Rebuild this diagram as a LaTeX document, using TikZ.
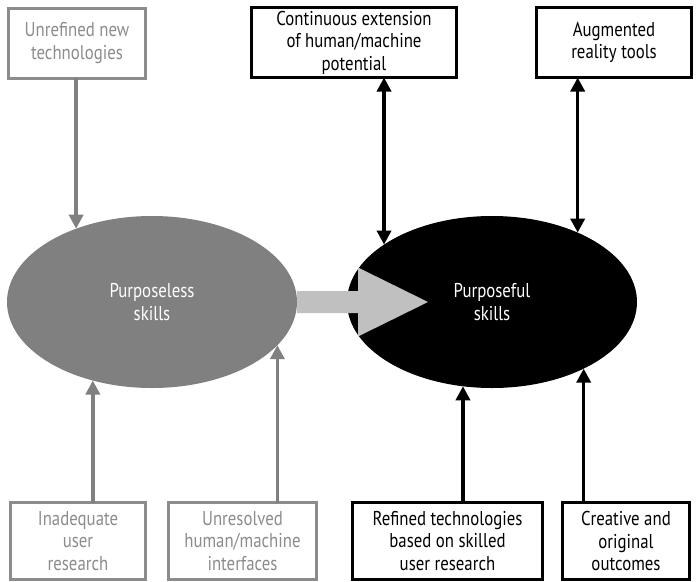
\documentclass[tikz,border=0pt]{standalone}
\usepackage{fontspec}
\setmainfont{PT Sans}[FakeStretch=0.84]
\usepackage{xcolor}
\usepackage{tikz}
\usetikzlibrary{shapes.geometric, arrows.meta}

\definecolor{midgray}{HTML}{808080}
\definecolor{boxgray}{HTML}{8C8C8C}
\definecolor{lightgray}{HTML}{C0C0C0}

\begin{document}
\begin{tikzpicture}[x=1pt, y=-1pt,
    >={Triangle[length=14pt, width=14pt]},
    box/.style={rectangle, draw=black, line width=3pt, fill=white,
                align=center, inner sep=0pt, outer sep=0pt,
                font=\fontsize{20}{22.5}\selectfont},
    oldbox/.style={box, draw=boxgray, text=boxgray},
    skill/.style={ellipse, inner sep=0pt, outer sep=0pt,
                  minimum width=290, minimum height=172, align=center,
                  text=white, font=\fontsize{20}{22.5}\selectfont},
    grayarrow/.style={->, draw=midgray, line width=3.5pt},
    blackarrow/.style={->, draw=black, line width=3.5pt},
    twoway/.style={<->, draw=black, line width=3.5pt}
]
\useasboundingbox (0,0) rectangle (696,581);

% --- Ellipses ---
\node (pl) [skill, fill=midgray] at (152,302) {Purposeless\\skills};
\node (pf) [skill, fill=black] at (492,302) {Purposeful\\skills};

% --- Big transition arrow ---
\fill [lightgray] (pl.east) ++(0,-11) -- ++(61,0) -- ++(0,-23.5)
    -- ++(70,34.5) -- ++(-70,34.5) -- ++(0,-23.5) -- ++(-61,0) -- cycle;

% --- Top boxes ---
\node (unref) [oldbox, minimum width=137, minimum height=70] at (77,43)
    {Unrefined new\\technologies};
\node (cont) [box, minimum width=205, minimum height=70] at (354,42.5)
    {Continuous extension\\of human/machine\\potential};
\node (aug) [box, minimum width=155, minimum height=70] at (614,42.5)
    {Augmented\\reality tools};

% --- Bottom boxes ---
\node (inad) [oldbox, minimum width=135, minimum height=77] at (78,541)
    {Inadequate\\user\\research};
\node (unres) [oldbox, minimum width=148, minimum height=77] at (242.5,541)
    {Unresolved\\human/machine\\interfaces};
\node (refd) [box, minimum width=190, minimum height=77] at (447.5,541)
    {Refined technologies\\based on skilled\\user research};
\node (crea) [box, minimum width=127, minimum height=77] at (626,541)
    {Creative and\\original\\outcomes};

% --- Arrows ---
\draw [grayarrow]  (unref.south -| pl.136.6) -- (pl.136.6);
\draw [grayarrow]  (inad.north -| pl.233.6) -- (pl.233.6);
\draw [grayarrow]  (unres.north -| pl.341.7) -- (pl.341.7);
\draw [twoway]     (cont.south -| pf.152.5) -- (pf.152.5);
\draw [twoway]     (aug.south -| pf.39.4) -- (pf.39.4);
\draw [blackarrow] (refd.north -| pf.251.65) -- (pf.251.65);
\draw [blackarrow] (crea.north -| pf.324.6) -- (pf.324.6);
\end{tikzpicture}
\end{document}
